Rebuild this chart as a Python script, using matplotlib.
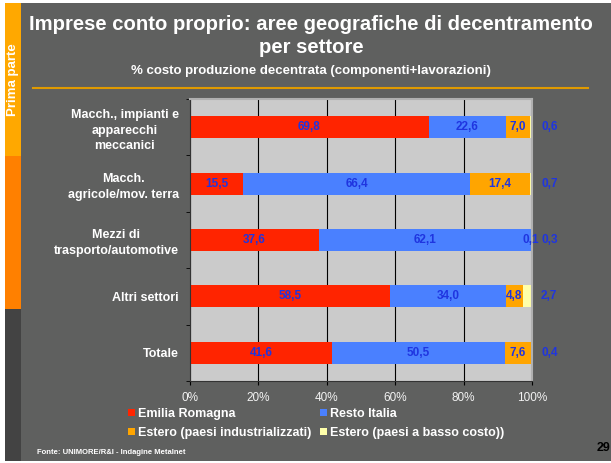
import numpy as np
import matplotlib
matplotlib.use("Agg")
import matplotlib.pyplot as plt
from matplotlib.patches import Rectangle, Patch
from matplotlib.lines import Line2D

# ── data ──────────────────────────────────────────────────────────────────────
CATEGORIES = [
    "Macch., impianti e\napparecchi\nmeccanici",
    "Macch.\nagricole/mov. terra",
    "Mezzi di\ntrasporto/automotive",
    "Altri settori",
    "Totale",
]
SERIES = [
    "Emilia Romagna",
    "Resto Italia",
    "Estero (paesi industrializzati)",
    "Estero (paesi a basso costo))",
]
EMILIA   = [69.8, 15.5, 37.6, 58.5, 41.6]
RESTO    = [22.6, 66.4, 62.1, 34.0, 50.5]
EST_IND  = [7.0, 17.4, 0.1, 4.8, 7.6]
EST_BASS = [0.6, 0.7, 0.3, 2.7, 0.4]
X_TICKS  = [0, 20, 40, 60, 80, 100]
X_LABELS = ["0%", "20%", "40%", "60%", "80%", "100%"]

TITLE    = "Imprese conto proprio: aree geografiche di decentramento\nper settore"
SUBTITLE = "% costo produzione decentrata (componenti+lavorazioni)"
SOURCE   = "Fonte: UNIMORE/R&I - Indagine Metalnet"

# ── style ─────────────────────────────────────────────────────────────────────
COLORS   = ["#FF2400", "#4A80FF", "#FFA500", "#FFFFAA"]
BG       = "#5F605F"
PLOT_BG  = "#CBCBCB"
LBL_BLUE = "#1F35E0"

plt.rcParams["font.family"] = ["Liberation Sans", "DejaVu Sans"]

W, H = 611, 463
fig = plt.figure(figsize=(W / 100, H / 100), dpi=100, facecolor="white")

def fx(px): return px / W
def fy(py): return 1 - py / H

def prect(x0, y0, x1, y1, color):
    fig.add_artist(Rectangle((fx(x0), fy(y1)), fx(x1) - fx(x0), fy(y0) - fy(y1),
                             transform=fig.transFigure, facecolor=color,
                             edgecolor="none", zorder=0))

# background + left strip
prect(5, 3, W, 461, BG)
prect(5, 3, 21, 156, "#FFA800")
prect(5, 156, 21, 309, "#FF8000")
prect(5, 309, 21, 461, "#434343")
fig.text(fx(13), fy(80), "Prima parte", rotation=90, ha="center", va="center",
         color="white", fontsize=9.5, fontweight="bold")

# titles
fig.text(fx(311), fy(36), TITLE, ha="center", va="center", color="white",
         fontsize=14.6, fontweight="bold", linespacing=1.22)
fig.text(fx(311), fy(71), SUBTITLE, ha="center", va="center", color="white",
         fontsize=9.5, fontweight="bold")
fig.add_artist(Line2D([fx(33), fx(588)], [fy(88), fy(88)], transform=fig.transFigure,
                      color="#E09A00", linewidth=1.5))

# ── chart ─────────────────────────────────────────────────────────────────────
ax = fig.add_axes([fx(190), fy(381), fx(532) - fx(190), fy(99) - fy(381)])
ax.set_facecolor(PLOT_BG)
ax.set_xlim(0, 100)
ax.set_ylim(len(CATEGORIES) - 0.5, -0.5)
ax.set_axisbelow(True)
ax.grid(axis="x", color="black", linewidth=0.8)
ax.grid(axis="y", visible=False)

y = np.arange(len(CATEGORIES))
left = np.zeros(len(CATEGORIES))
for i, vals in enumerate([EMILIA, RESTO, EST_IND, EST_BASS]):
    vals = np.array(vals)
    ax.barh(y, vals, left=left, height=0.39, color=COLORS[i], edgecolor="none", zorder=2)
    for yy, l, v in zip(y, left, vals):
        txt = f"{v:.1f}".replace(".", ",")
        if i < 3:
            ax.text(l + v / 2, yy, txt, ha="center", va="center", color=LBL_BLUE,
                    fontsize=8.5, fontweight="bold", zorder=3)
        else:
            ax.annotate(txt, (100, yy), xytext=(6.5, 0), textcoords="offset points",
                        ha="left", va="center", color=LBL_BLUE, fontsize=8.5,
                        fontweight="bold", annotation_clip=False)
    left = left + vals

ax.set_xticks(X_TICKS)
ax.set_xticklabels(X_LABELS)
ax.tick_params(axis="x", colors="black", labelcolor="#F2F2F2", labelsize=8.5,
               length=3, direction="out", pad=5)
ax.set_yticks(y)
ax.set_yticklabels(CATEGORIES)
ax.set_yticks(np.arange(len(CATEGORIES) + 1) - 0.5, minor=True)
ax.tick_params(axis="y", which="major", length=0, pad=8, labelcolor="white", labelsize=9)
ax.tick_params(axis="y", which="minor", length=3, color="black")
for lab in ax.get_yticklabels():
    lab.set_fontweight("bold")
    lab.set_multialignment("center")
    lab.set_linespacing(1.42)

ax.spines["left"].set_color("#333333")
ax.spines["bottom"].set_color("#333333")
for s in ["top", "right"]:
    ax.spines[s].set_color("#B0B0B0")
    ax.spines[s].set_linewidth(1.5)

# legend
handles = [Patch(facecolor=c, edgecolor="none") for c in COLORS]
order = [0, 2, 1, 3]
leg = fig.legend([handles[k] for k in order], [SERIES[k] for k in order],
                 ncol=2, loc="upper left", bbox_to_anchor=(fx(128), fy(408)),
                 frameon=False, fontsize=9, handlelength=0.55, handleheight=0.55,
                 handletextpad=0.25, columnspacing=0.7, labelspacing=0.55,
                 borderpad=0, borderaxespad=0)
for t in leg.get_texts():
    t.set_color("white")
    t.set_fontweight("bold")

fig.text(fx(37), fy(453), SOURCE, ha="left", va="center", color="white",
         fontsize=5.5, fontweight="bold")
fig.text(fx(610), fy(448), "29", ha="right", va="center", color="black",
         fontsize=9, fontweight="bold")

fig.savefig("out.png", dpi=100, facecolor=fig.get_facecolor())
